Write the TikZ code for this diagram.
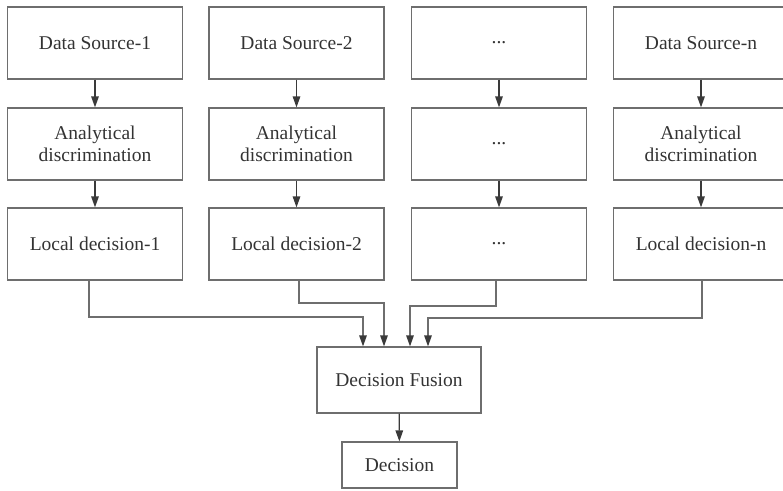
\documentclass[tikz,border=0pt]{standalone}
\usepackage{fontspec}
\setmainfont{Liberation Serif}
\usetikzlibrary{arrows.meta}
\definecolor{boxLine}{HTML}{6E6E6E}
\definecolor{arrLine}{HTML}{3A3A3A}
\definecolor{txt}{HTML}{333333}
\newcommand{\gap}{.{}.{}.}

\tikzset{
  blk/.style={draw=boxLine, line width=1.2pt, minimum width=175pt, minimum height=72pt,
    align=center, text=txt, font=\fontsize{19.5}{22}\selectfont, inner sep=0pt},
  arr/.style={draw=arrLine, line width=1.3pt, -{Triangle[width=7.5pt,length=11pt]}},
  lnk/.style={draw=boxLine, line width=1.2pt, -{Triangle[width=7.5pt,length=11pt,color=arrLine]}}
}

\begin{document}
\begin{tikzpicture}[x=1pt, y=-1pt]
    \useasboundingbox (0,0) rectangle (783,490);
    % three rows of boxes, four columns
    \foreach \i/\cx/\top/\mid/\bot in {1/95/Data Source-1/Analytical\\discrimination/Local decision-1,
        2/296.5/Data Source-2/Analytical\\discrimination/Local decision-2,
        3/499/\gap/\gap/\gap,
        4/701/Data Source-n/Analytical\\discrimination/Local decision-n} {
        \node[blk] (src\i) at (\cx,43) {\top};
        \node[blk] (ana\i) at (\cx,144) {\mid};
        \node[blk] (loc\i) at (\cx,244) {\bot};
        \draw[arr] (src\i) -- (ana\i);
        \draw[arr] (ana\i) -- (loc\i);
    }
    \node[blk, minimum width=164pt, minimum height=66pt] (fusion) at (399,380) {Decision Fusion};
    \node[blk, minimum width=115pt, minimum height=46pt] (decision) at (399.5,465) {Decision};

    % links into the fusion box
    \draw[lnk] ([xshift=-6pt]loc1.south) |- (363,317) -- ([xshift=-36pt]fusion.north);
    \draw[lnk] ([xshift=2.5pt]loc2.south) |- (384,303) -- ([xshift=-15pt]fusion.north);
    \draw[lnk] ([xshift=-3pt]loc3.south) |- (410,306) -- ([xshift=11pt]fusion.north);
    \draw[lnk] ([xshift=1pt]loc4.south) |- (428,318) -- ([xshift=29pt]fusion.north);
    \draw[arr] (fusion) -- (decision);
\end{tikzpicture}
\end{document}
